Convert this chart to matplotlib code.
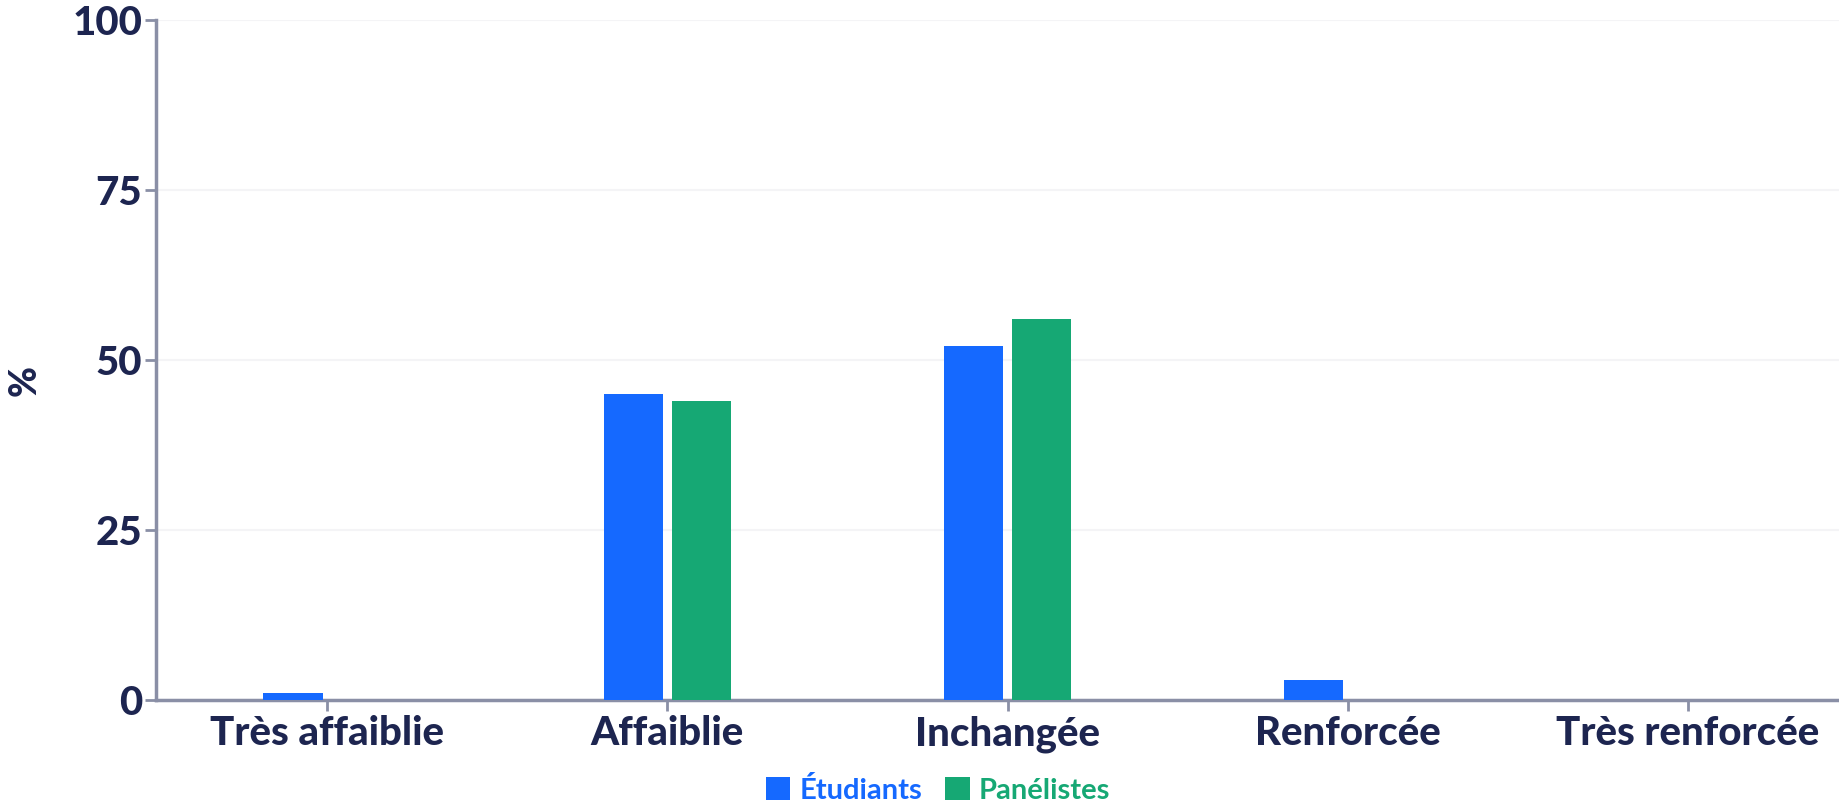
import numpy as np
import matplotlib.pyplot as plt

categories = ["Très affaiblie", "Affaiblie", "Inchangée", "Renforcée", "Très renforcée"]
etudiants = [1, 45, 52, 3, 0]
panelistes = [0, 44, 56, 0, 0]
y_ticks = [0, 25, 50, 75, 100]

text_col = "#1d2550"
axis_col = "#8a8fa6"
blue = "#1569ff"
green = "#16a874"

plt.rcParams['font.family'] = ['Lato', 'DejaVu Sans']
plt.rcParams['font.weight'] = 'bold'

fig = plt.figure(figsize=(18.39, 8.02), dpi=100)
ax = fig.add_axes([0.0848, 0.1272, 0.9152, 0.8478])

x = np.arange(len(categories))
w = 0.174
ax.bar(x - 0.1, etudiants, w, color=blue, label="Étudiants", zorder=3)
ax.bar(x + 0.1, panelistes, w, color=green, label="Panélistes", zorder=3)

ax.set_xlim(-0.503, 4.444)
ax.set_ylim(0, 100)
ax.set_yticks(y_ticks)
ax.set_xticks(x)
ax.set_xticklabels(categories)
ax.grid(axis='y', color='#f4f4f6', linewidth=1.5, zorder=0)

for s in ['top', 'right']:
    ax.spines[s].set_visible(False)
for s in ['left', 'bottom']:
    ax.spines[s].set_color(axis_col)
    ax.spines[s].set_linewidth(2.5)

ax.tick_params(axis='both', colors=axis_col, width=2, length=8,
               labelcolor=text_col, labelsize=29)
ax.tick_params(axis='x', pad=3)
ax.tick_params(axis='y', pad=2)
for lab in ax.get_xticklabels() + ax.get_yticklabels():
    lab.set_fontweight(900)

ax.set_ylabel("%", fontsize=27, color=text_col, fontweight=900)
ax.yaxis.set_label_coords(-0.068, 0.47)

leg = fig.legend(loc='lower center', bbox_to_anchor=(0.51, -0.035), ncol=2,
                 frameon=False, fontsize=21, handlelength=0.85, handleheight=0.85,
                 handletextpad=0.3, columnspacing=0.8,
                 labelcolor=[blue, green])
for t in leg.get_texts():
    t.set_fontweight('bold')

fig.savefig("out.png", dpi=100)
